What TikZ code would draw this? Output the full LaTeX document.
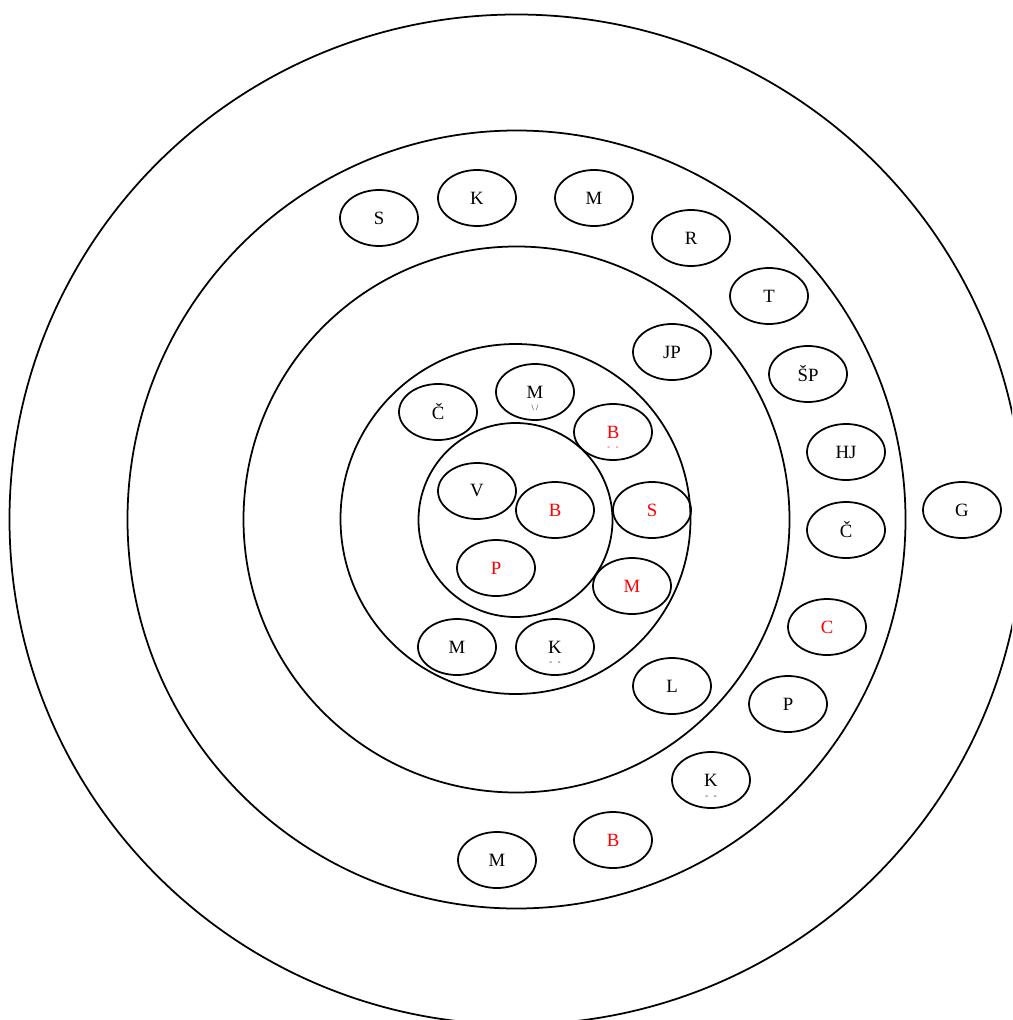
\documentclass[tikz,border=0pt]{standalone}
\usepackage{fontspec}
\setmainfont{Liberation Serif}
\usetikzlibrary{shapes.geometric}
\tikzset{
  ring/.style={draw=black, line width=1.5pt},
  bub/.style={draw=black, line width=1.5pt, ellipse, minimum width=2.34cm, minimum height=1.68cm, inner sep=0pt, font=\fontsize{16}{18}\selectfont},
  redbub/.style={bub, text=red},
  tick/.style={inner sep=0pt, font=\fontsize{7}{7}\selectfont}
}
\begin{document}
\begin{tikzpicture}[x=0.03cm, y=-0.03cm]
\useasboundingbox (0,0) rectangle (1012,1020);
\clip (0,0) rectangle (1012,1020);
\coordinate (ctr) at (516.5,519.5);
\draw[ring] (ctr) ellipse [x radius=507, y radius=505];
\draw[ring] (ctr) circle [radius=389];
\draw[ring] (ctr) circle [radius=273];
\draw[ring] (515.5,519) circle [radius=175];
\draw[ring] (515.5,520) circle [radius=97];
% outer band
\node[bub] (s1) at (379,218) {S};
\node[bub] (k1) at (477,198) {K};
\node[bub] (m1) at (594,198) {M};
\node[bub] (r1) at (691,238) {R};
\node[bub] (t1) at (769,296) {T};
\node[bub] (sp1) at (808,374) {ŠP};
\node[bub] (hj1) at (846,452) {HJ};
\node[bub] (g1) at (962,510) {G};
\node[bub] (c1) at (846,530) {Č};
\node[redbub] (c2) at (827,627) {C};
\node[bub] (p1) at (788,704) {P};
\node[bub] (k2) at (711,780) {K};
\node[tick] (k2t) at (711,797) {-\hspace{5pt}-};
\node[redbub] (b1) at (613,840) {B};
\node[bub] (m2) at (497,860) {M};
% middle band
\node[bub] (jp1) at (672,352) {JP};
\node[bub] (l1) at (672,686) {L};
% inner band
\node[bub] (c3) at (438,412) {Č};
\node[bub] (m3) at (535,392) {M};
\node[tick] (m3t) at (535,408) {\textbackslash\hspace{2pt}/};
\node[redbub] (b2) at (613,432) {B};
\node[tick, text=red] (b2t) at (613,448) {-\hspace{5pt}-};
\node[redbub] (s2) at (652,510) {S};
\node[redbub] (m4) at (632,586) {M};
\node[bub] (m5) at (457,647) {M};
\node[bub] (k3) at (555,647) {K};
\node[tick] (k3t) at (555,663) {-\hspace{5pt}-};
% core
\node[bub] (v1) at (477,491) {V};
\node[redbub] (b3) at (555,510) {B};
\node[redbub] (p2) at (496,568) {P};
\end{tikzpicture}
\end{document}
